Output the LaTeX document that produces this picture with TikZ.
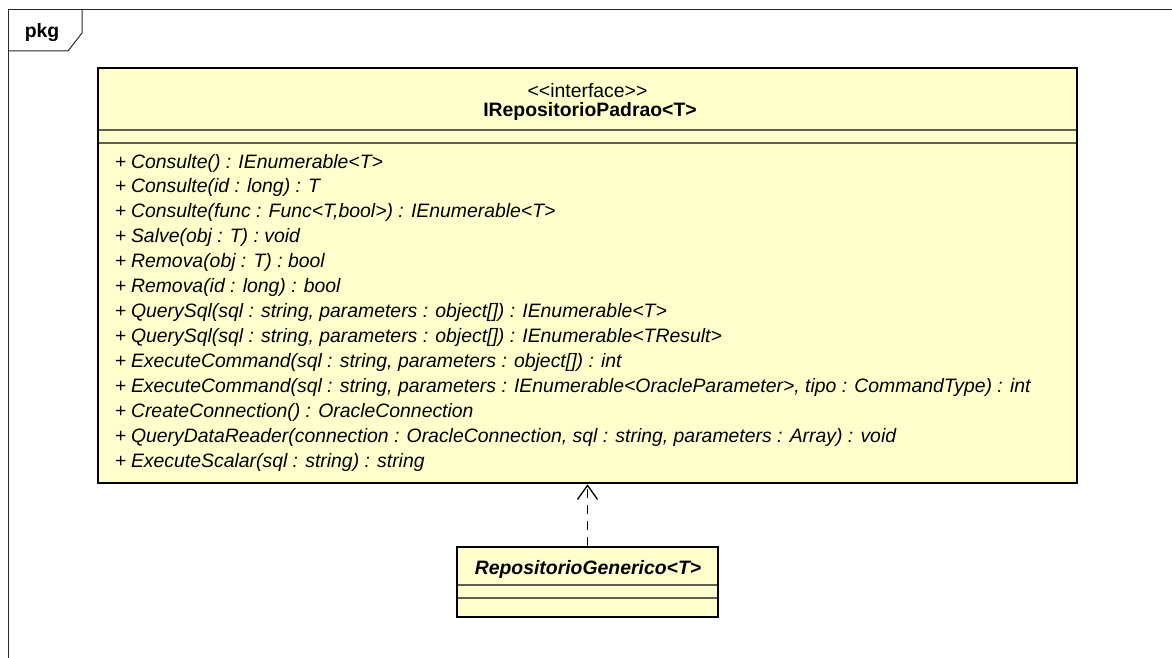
\documentclass[tikz,border=0pt]{standalone}
\usepackage{fontspec}
\setmainfont{Liberation Sans}
\usetikzlibrary{arrows.meta}
\definecolor{classfill}{RGB}{255,255,206}
\definecolor{sepline}{RGB}{95,95,80}
\definecolor{framecol}{RGB}{40,40,40}
\newcommand{\umlfont}{\fontsize{19.4}{24}\selectfont}
\tikzset{
  classbox/.style={draw=black, line width=2.6pt, fill=classfill, inner sep=0pt},
  sep/.style={draw=sepline, line width=1.1pt},
  op/.style={anchor=base west, inner sep=0pt, font=\umlfont},
  title/.style={anchor=base, inner sep=0pt, font=\umlfont},
  realize/.style={draw=black, line width=1.3pt, dash pattern=on 9pt off 7pt,
    -{Straight Barb[length=14pt,width=20pt,line width=1.3pt]}},
}
\newcommand{\opl}[1]{+\kern4.5pt\textit{#1}}
\begin{document}
\begin{tikzpicture}[x=1pt,y=-1pt]
\useasboundingbox (0,0) rectangle (1172,658);
% package frame
\draw[framecol, line width=1pt] (8,680) -- (8,10) -- (1190,10);
\draw[framecol, line width=1pt] (8,51) -- (68,51) -- (82,33) -- (82,10);
\node[title, font=\umlfont\bfseries] (pkg) at (42,38) {pkg};
% interface
\node[classbox, minimum width=979pt, minimum height=415pt] (iface) at (587.5,275.5) {};
\draw[sep] (99,130) -- (1076,130);
\draw[sep] (99,143) -- (1076,143);
\node[title] (stereo) at (587.5,98) {<\kern0pt<\kern0pt interface>\kern0pt>};
\node[title, font=\umlfont\bfseries] (iname) at (590,117) {IRepositorioPadrao<T>};
\node[op] (o1) at (115,168.0) {\opl{Consulte() : IEnumerable<T>}};
\node[op] (o2) at (115,192.9) {\opl{Consulte(id : long) : T}};
\node[op] (o3) at (115,217.8) {\opl{Consulte(func : Func<T,bool>) : IEnumerable<T>}};
\node[op] (o4) at (115,242.8) {\opl{Salve(obj : T) : void}};
\node[op] (o5) at (115,267.7) {\opl{Remova(obj : T) : bool}};
\node[op] (o6) at (115,292.6) {\opl{Remova(id : long) : bool}};
\node[op] (o7) at (115,317.5) {\opl{QuerySql(sql : string, parameters : object[]) : IEnumerable<T>}};
\node[op] (o8) at (115,342.4) {\opl{QuerySql(sql : string, parameters : object[]) : IEnumerable<TResult>}};
\node[op] (o9) at (115,367.4) {\opl{ExecuteCommand(sql : string, parameters : object[]) : int}};
\node[op] (o10) at (115,392.3) {\opl{ExecuteCommand(sql : string, parameters : IEnumerable<OracleParameter>, tipo : CommandType) : int}};
\node[op] (o11) at (115,417.2) {\opl{CreateConnection() : OracleConnection}};
\node[op] (o12) at (115,442.1) {\opl{QueryDataReader(connection : OracleConnection, sql : string, parameters : Array) : void}};
\node[op] (o13) at (115,467.0) {\opl{ExecuteScalar(sql : string) : string}};
% implementing class
\node[classbox, minimum width=261pt, minimum height=70pt] (impl) at (587.5,582) {};
\node[title, font=\umlfont\bfseries\itshape] (cname) at (588,574) {RepositorioGenerico<T>};
\draw[sep] (458,585) -- (717,585);
\draw[sep] (458,598) -- (717,598);
% realization
\draw[realize] (impl.north) -- (iface.south);
\end{tikzpicture}
\end{document}
